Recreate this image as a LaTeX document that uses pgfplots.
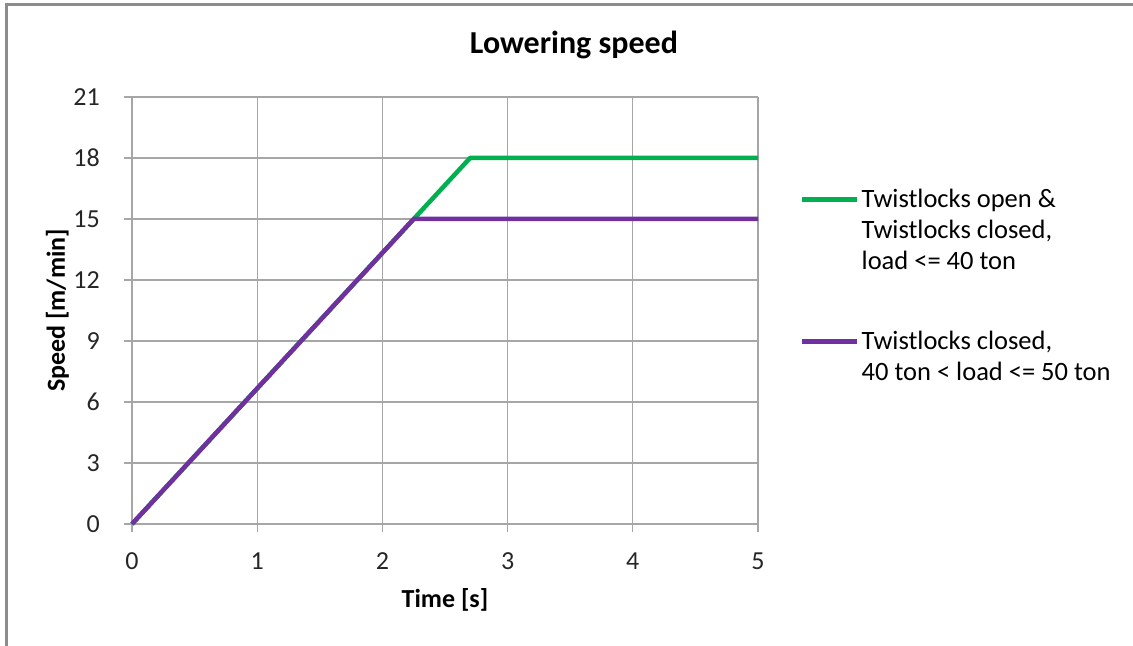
\documentclass[border=0pt]{standalone}
\usepackage{fontspec}
\setmainfont{Carlito}
\usepackage{pgfplots}
\pgfplotsset{compat=1.18}
\definecolor{exgreen}{HTML}{00B050}
\definecolor{expurple}{HTML}{7030A0}
\definecolor{gridgray}{HTML}{A6A6A6}
\definecolor{framegray}{HTML}{8C8C8C}
\begin{document}
\begin{tikzpicture}
\path[use as bounding box] (0,0) rectangle (1133bp,646bp);
\draw[framegray, line width=2.5bp] (6.5bp,0) -- (6.5bp,641.5bp) -- (1133bp,641.5bp);
\begin{axis}[
  at={(132bp,122bp)}, anchor=south west,
  scale only axis, width=626bp, height=427bp,
  xmin=0, xmax=5, ymin=0, ymax=21,
  xtick={0,1,2,3,4,5}, ytick={0,3,6,9,12,15,18,21},
  grid=major,
  major grid style={gridgray, line width=1.3bp},
  axis line style={gridgray, line width=1.3bp},
  axis x line*=bottom, axis y line*=left,
  tick style={gridgray, line width=1.3bp},
  tick align=outside, major tick length=8bp,
  /pgf/number format/assume math mode=true,
  ticklabel style={font=\fontsize{26bp}{31bp}\selectfont, text=black!85},
  xticklabel style={anchor=center, inner sep=0pt, yshift=-29bp},
  yticklabel style={anchor=east, inner sep=0pt, xshift=-24bp},
  title={\textbf{Lowering speed}},
  title style={at={(axis description cs:0.706,1.108)}, anchor=center, font=\fontsize{32bp}{38bp}\selectfont},
  xlabel={\textbf{Time [s]}},
  xlabel style={at={(axis description cs:0.5,-0.178)}, anchor=center, font=\fontsize{26bp}{31bp}\selectfont},
  ylabel={\textbf{Speed [m/min]}},
  ylabel style={at={(axis description cs:-0.119,0.5)}, anchor=center, rotate=0, font=\fontsize{26bp}{31bp}\selectfont},
  legend style={at={(axis description cs:1.0671,0.789)}, anchor=north west, draw=none, fill=none, inner sep=0pt,
    font=\fontsize{26.5bp}{31bp}\selectfont, row sep=118bp,
    cells={anchor=base west},
    /tikz/every even column/.style={column sep=3bp}},
  legend image code/.code={\draw[#1] (0bp,8bp) -- (55bp,8bp);},
  clip=false,
]
\addplot[exgreen, line width=4.5bp, line join=round] coordinates {(0,0) (2.7,18) (5,18)};
\addlegendentry{\parbox[t]{300bp}{Twistlocks open \&\\Twistlocks closed,\\load <= 40 ton}}
\addplot[expurple, line width=4.5bp, line join=round] coordinates {(0,0) (2.25,15) (5,15)};
\addlegendentry{\parbox[t]{300bp}{Twistlocks closed,\\40 ton < load <= 50 ton}}
\end{axis}
\end{tikzpicture}
\end{document}
